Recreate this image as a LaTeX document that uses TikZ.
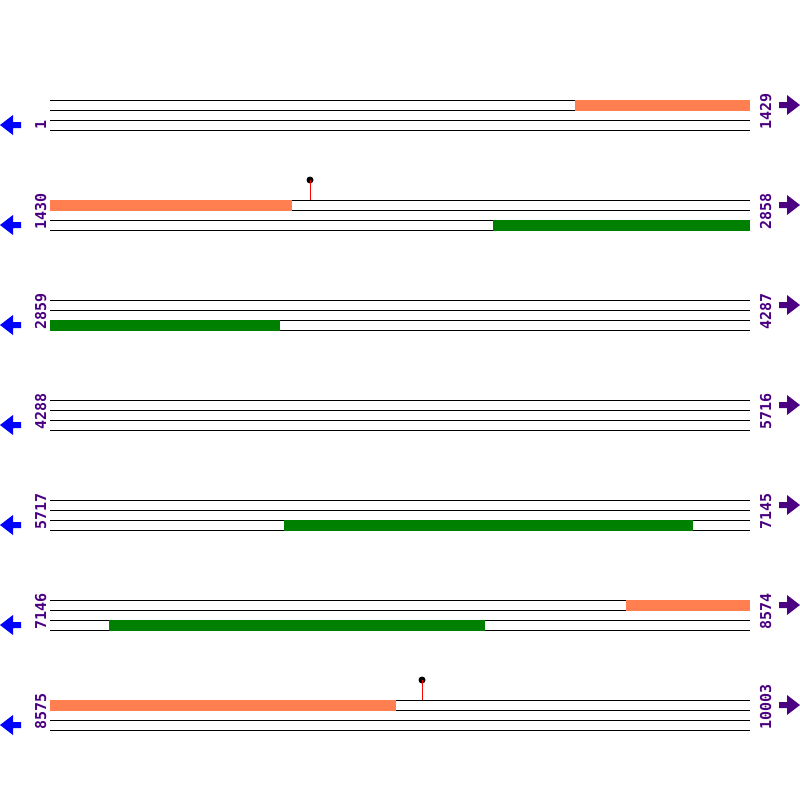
\documentclass[tikz,border=0pt]{standalone}
\usepackage{fontspec}
\newfontfamily\posfont{DejaVu Sans Mono}
\definecolor{cdsf}{RGB}{255,127,80}
\definecolor{cdsr}{RGB}{0,128,0}
\definecolor{posc}{RGB}{75,0,130}
\definecolor{fwdc}{RGB}{75,0,130}
\definecolor{revc}{RGB}{0,0,255}
\newcommand{\LX}{50}
\newcommand{\RX}{750}
\newcommand{\RH}{100}
\newcommand{\GP}{10}

\begin{document}
\begin{tikzpicture}[
    x=1pt, y=-1pt,
    track/.style={draw=black, line width=1pt},
    coordlab/.style={font=\posfont\bfseries\fontsize{15}{18}\selectfont, text=posc, rotate=90, inner sep=0pt, anchor=base west},
    stem/.style={draw=red, line width=1pt},
    dot/.style={circle, fill=black, minimum size=7pt, inner sep=0pt},
  ]
  \useasboundingbox (0,0) rectangle (800,800);

  %% ================= the seven rows of the map =================
  \foreach \k/\a/\b in {1/1/1429, 2/1430/2858, 3/2859/4287, 4/4288/5716,
                        5/5717/7145, 6/7146/8574, 7/8575/10003} {
    \foreach \j in {0,1,2,3} {
      \draw[track] (\LX,{\k*\RH+\j*\GP}) -- (\RX,{\k*\RH+\j*\GP});
    }
    \node[coordlab] (lo\k) at (46,{\k*\RH+30}) {\a};
    \node[coordlab] (hi\k) at (771,{\k*\RH+30}) {\b};
    % strand arrows: forward on the right, reverse on the left
    \fill[fwdc] (800,{\k*\RH+5}) -- (787,{\k*\RH-5}) -- (787,{\k*\RH+2})
      -- (779,{\k*\RH+2}) -- (779,{\k*\RH+8}) -- (787,{\k*\RH+8})
      -- (787,{\k*\RH+15}) -- cycle;
    \fill[revc] (0,{\k*\RH+25}) -- (13,{\k*\RH+15}) -- (13,{\k*\RH+22})
      -- (21,{\k*\RH+22}) -- (21,{\k*\RH+28}) -- (13,{\k*\RH+28})
      -- (13,{\k*\RH+35}) -- cycle;
  }

  %% ================= features: forward (top band) =================
  \foreach \y/\s/\e in {100/575/750, 200/50/292, 600/626/750, 700/50/396} {
    \fill[cdsf] (\s,{\y-0.5}) rectangle (\e,{\y+10.5});
  }

  %% ================= features: reverse (bottom band) =================
  \foreach \y/\s/\e in {220/493/750, 320/50/280, 520/284/693, 620/109/485} {
    \fill[cdsr] (\s,{\y-0.5}) rectangle (\e,{\y+10.5});
  }

  %% ================= point sites =================
  \foreach \n/\x/\y in {1/310/200, 2/422/700} {
    \coordinate (site\n) at (\x,\y);
    \node[dot] (head\n) at (\x,{\y-20}) {};
    \draw[stem] (site\n) -- (head\n.center);
  }

\end{tikzpicture}
\end{document}
